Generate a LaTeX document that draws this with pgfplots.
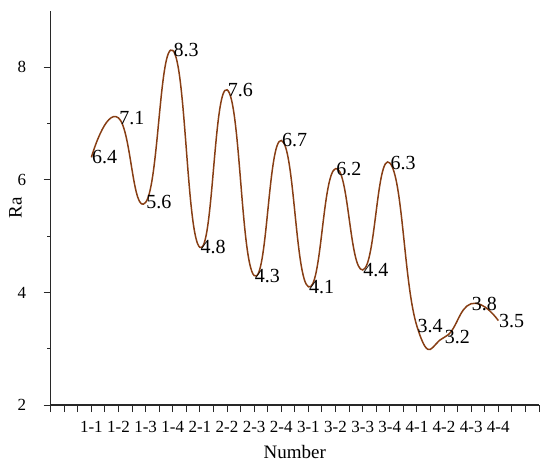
\documentclass[border=0pt]{standalone}
\usepackage{fontspec}
\setmainfont{Liberation Serif}
\usepackage{pgfplots}
\pgfplotsset{compat=1.18}
\usepackage{pgfplotstable}
\definecolor{curve}{RGB}{135,62,20}
\definecolor{axisgray}{RGB}{40,40,40}

% x = tick index: samples sit on every second tick, from 3 to 33
\pgfplotstableread{
x  ra   lbl
3  6.4  6.4
5  7.1  7.1
7  5.6  5.6
9  8.3  8.3
11 4.8  4.8
13 7.6  7.6
15 4.3  4.3
17 6.7  6.7
19 4.1  4.1
21 6.2  6.2
23 4.4  4.4
25 6.3  6.3
27 3.4  3.4
29 3.2  3.2
31 3.8  3.8
33 3.5  3.5
}\radata

\begin{document}
\begin{tikzpicture}
\useasboundingbox (0,0) rectangle (550bp,-465bp);
\begin{axis}[
  at={(50.7bp,-405bp)}, anchor=south west,
  scale only axis, width=488.3bp, height=394bp,
  xmin=0, xmax=36, ymin=2, ymax=9,
  axis lines*=left,
  axis line style={axisgray, line width=1.3pt},
  tick style={axisgray, line width=1pt},
  tick align=outside,
  major tick length=7bp, minor tick length=3.5bp,
  xtick={0,...,36},
  xticklabels={,,,1-1,,1-2,,1-3,,1-4,,2-1,,2-2,,2-3,,2-4,,3-1,,3-2,,3-3,,3-4,,4-1,,4-2,,4-3,,4-4},
  ytick={2,4,6,8}, minor ytick={3,5,7},
  /pgf/number format/assume math mode=true,
  tick label style={font=\fontsize{17bp}{19bp}\selectfont, text=black},
  xticklabel style={anchor=base, yshift=-20bp},
  yticklabel style={anchor=east, xshift=-14bp},
  xlabel={Number}, ylabel={Ra},
  label style={font=\fontsize{19bp}{21bp}\selectfont},
  xlabel style={at={(axis description cs:0.5,-0.119)}, anchor=center},
  ylabel style={at={(axis description cs:-0.072,0.5)}, anchor=center},
  clip=false,
]
\addplot[curve, line width=1.5pt, smooth, tension=0.85,
  point meta=explicit symbolic,
  nodes near coords,
  every node near coord/.append style={anchor=west, inner sep=0pt,
    font=\fontsize{20bp}{22bp}\selectfont, text=black}]
  table[x=x, y=ra, meta=lbl] {\radata};
\end{axis}
\end{tikzpicture}
\end{document}
